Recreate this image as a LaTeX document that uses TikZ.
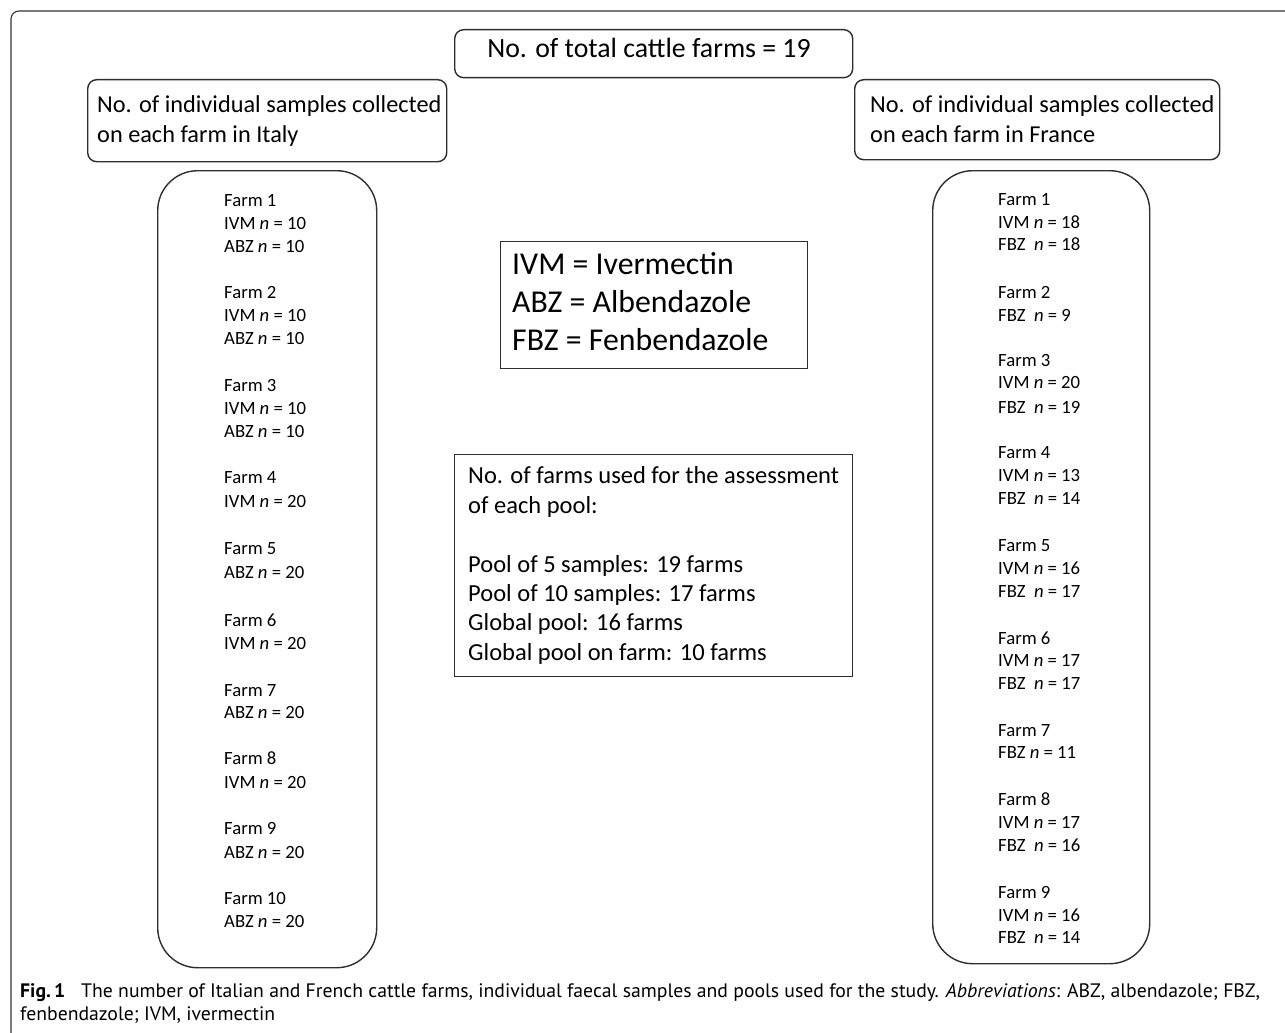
\documentclass[tikz,border=0pt]{standalone}
\usepackage{fontspec}
\setmainfont{Carlito}
\newfontfamily\capfont{PT Sans}
\newsavebox\capA
\newsavebox\capB
\newdimen\capw
\begin{document}
\sbox\capA{\capfont\fontsize{19.5}{23}\selectfont\textbf{Fig.\,1}\hspace{0.8em}The number of Italian and French cattle farms, individual faecal samples and pools used for the study. \textit{Abbreviations}: ABZ, albendazole; FBZ,}%
\sbox\capB{\capfont\fontsize{19.5}{23}\selectfont fenbendazole; IVM, ivermectin}%
\capw=\wd\capA
\pgfmathsetmacro\capsc{1240/\capw}%
\begin{tikzpicture}[x=1pt,y=-1pt,
  box/.style={draw=black!82, line width=1.4pt},
  rbox/.style={box, rounded corners=9pt, anchor=north west, inner sep=0pt},
  sbox/.style={box, anchor=north west, inner sep=0pt},
  colbox/.style={box, rounded corners=40pt, anchor=north west, inner sep=0pt},
  txt/.style={anchor=base west, inner sep=0pt, text=black},
  coltxt/.style={txt, font=\fontsize{18.7}{22}\selectfont},
  headtxt/.style={txt, font=\fontsize{24.3}{30}\selectfont},
  pooltxt/.style={txt, font=\fontsize{24.5}{30}\selectfont},
  abbtxt/.style={txt, font=\fontsize{31.8}{38}\selectfont},
  frame/.style={draw=black!80, line width=1.1pt}
]
\useasboundingbox (0,0) rectangle (1285,1033);
\fill[white] (0,0) rectangle (1285,1033);
% outer frame
\draw[frame, rounded corners=8pt] (11,1045) -- (11,11) -- (1295,11);

% title
\node[rbox, minimum width=398pt, minimum height=48pt] (title) at (454,29) {};
\node[txt, font=\fontsize{27.8}{32}\selectfont, anchor=base] (titlet) at (649,57.5) {No. of total cattle farms = 19};

% headers
\node[rbox, minimum width=359pt, minimum height=82pt] (hit) at (87,79) {};
\node[headtxt] (hit1) at (97,112.5) {No. of individual samples collected};
\node[headtxt] (hit2) at (97,142.5) {on each farm in Italy};
\node[rbox, minimum width=365pt, minimum height=80pt] (hfr) at (854,79) {};
\node[headtxt] (hfr1) at (870,112) {No. of individual samples collected};
\node[headtxt] (hfr2) at (870,142) {on each farm in France};

% columns
\node[colbox, minimum width=219pt, minimum height=797pt] (cit) at (157,170) {};
\node[colbox, minimum width=217pt, minimum height=793pt] (cfr) at (932,170) {};

\foreach \t/\y [count=\i] in {
  Farm 1/206, IVM \textit{n} = 10/229, ABZ \textit{n} = 10/252,
  Farm 2/298, IVM \textit{n} = 10/321, ABZ \textit{n} = 10/344,
  Farm 3/391, IVM \textit{n} = 10/414, ABZ \textit{n} = 10/437,
  Farm 4/483, IVM \textit{n} = 20/507,
  Farm 5/554, ABZ \textit{n} = 20/578,
  Farm 6/626, IVM \textit{n} = 20/649,
  Farm 7/696, ABZ \textit{n} = 20/718,
  Farm 8/764, IVM \textit{n} = 20/788,
  Farm 9/834, ABZ \textit{n} = 20/858,
  Farm 10/904, ABZ \textit{n} = 20/927}
  \node[coltxt] (it\i) at (224,\y) {\t};

\foreach \t/\y [count=\i] in {
  Farm 1/205.5, IVM \textit{n} = 18/228.5, FBZ\ \ \textit{n} = 18/250.5,
  Farm 2/298.5, FBZ\ \ \textit{n} = 9/321.5,
  Farm 3/366.5, IVM \textit{n} = 20/388.5, FBZ\ \ \textit{n} = 19/413.5,
  Farm 4/458.5, IVM \textit{n} = 13/481.5, FBZ\ \ \textit{n} = 14/504.5,
  Farm 5/551.5, IVM \textit{n} = 16/574.5, FBZ\ \ \textit{n} = 17/597.5,
  Farm 6/644.5, IVM \textit{n} = 17/666.5, FBZ\ \ \textit{n} = 17/689.5,
  Farm 7/736.5, FBZ \textit{n} = 11/758.5,
  Farm 8/805.5, IVM \textit{n} = 17/828.5, FBZ\ \ \textit{n} = 16/851.5,
  Farm 9/898.5, IVM \textit{n} = 16/921.5, FBZ\ \ \textit{n} = 14/943.5}
  \node[coltxt] (fr\i) at (998,\y) {\t};

% abbreviations
\node[sbox, minimum width=307pt, minimum height=127pt] (abb) at (500,241) {};
\node[abbtxt] (abb1) at (512,274) {IVM = Ivermectin};
\node[abbtxt] (abb2) at (512,312.3) {ABZ = Albendazole};
\node[abbtxt] (abb3) at (512,350) {FBZ = Fenbendazole};

% pools
\node[sbox, minimum width=398pt, minimum height=222pt] (pool) at (454,454) {};
\node[pooltxt] (pool1) at (468,483.5) {No. of farms used for the assessment};
\node[pooltxt] (pool2) at (468,513) {of each pool:};
\node[pooltxt] (pool3) at (468,572.5) {Pool of 5 samples: 19 farms};
\node[pooltxt] (pool4) at (468,601.7) {Pool of 10 samples: 17 farms};
\node[pooltxt] (pool5) at (468,630.5) {Global pool: 16 farms};
\node[pooltxt] (pool6) at (468,660) {Global pool on farm: 10 farms};

% caption
\node[txt] (cap1) at (20,997) {\scalebox{\capsc}[1]{\usebox\capA}};
\node[txt] (cap2) at (20,1020) {\scalebox{\capsc}[1]{\usebox\capB}};
\end{tikzpicture}
\end{document}
